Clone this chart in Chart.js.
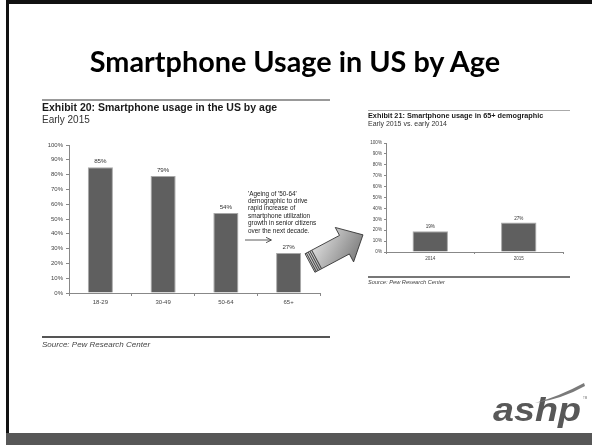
<!DOCTYPE html>
<html lang="en">
<head>
<meta charset="utf-8">
<title>Smartphone Usage in US by Age</title>
<script src="https://cdn.jsdelivr.net/npm/chart.js@4/dist/chart.umd.min.js"></script>
<style>
  html, body { margin: 0; padding: 0; background: #fff; }
  .slide { position: relative; width: 592px; height: 445px; overflow: hidden; background: #fff; }
  .frame { position: absolute; background: #111; }
  .band { position: absolute; left: 6px; top: 433px; width: 586px; height: 12px; background: #575757; }
  .rule { position: absolute; }
  canvas { position: absolute; }
  svg.overlay { position: absolute; left: 0; top: 0; }
</style>
</head>
<body>
<div class="slide">
  <div class="frame" style="left:6px;top:0;width:586px;height:4px"></div>
  <div class="frame" style="left:6px;top:0;width:3px;height:445px"></div>
  <div class="band"></div>

  <!-- 图表上下分隔线 -->
  <div class="rule" style="left:42px;top:99px;width:288px;height:1.5px;background:#999"></div>
  <div class="rule" style="left:42px;top:336px;width:288px;height:2px;background:#555"></div>
  <div class="rule" style="left:368px;top:110px;width:202px;height:1px;background:#aaa"></div>
  <div class="rule" style="left:368px;top:276px;width:202px;height:2px;background:#777"></div>

  <canvas id="ageChart" width="300" height="175" style="left:30px;top:135px"></canvas>
  <canvas id="seniorChart" width="210" height="125" style="left:360px;top:138px"></canvas>

  <svg class="overlay" width="592" height="445" xmlns="http://www.w3.org/2000/svg">
    <defs>
      <linearGradient id="arrowFill" x1="0" y1="0" x2="1" y2="1">
        <stop offset="0" stop-color="#f2f2f2"/>
        <stop offset="1" stop-color="#6a6a6a"/>
      </linearGradient>
    </defs>

    <text x="295" y="72" text-anchor="middle" font-family="Lato, 'Open Sans', sans-serif"
          font-weight="700" font-size="28.8" fill="#000">Smartphone Usage in US by Age</text>

    <g font-family="'Liberation Sans', Arial, sans-serif">
      <text x="42" y="111" font-weight="700" font-size="10.5" fill="#1a1a1a">Exhibit 20: Smartphone usage in the US by age</text>
      <text x="42" y="122.5" font-size="10" fill="#333">Early 2015</text>
      <text x="42" y="347" font-style="italic" font-size="8" fill="#444">Source: Pew Research Center</text>

      <text x="368" y="118.3" font-weight="700" font-size="7.3" fill="#1a1a1a">Exhibit 21: Smartphone usage in 65+ demographic</text>
      <text x="368" y="125.8" font-size="7" fill="#333">Early 2015 vs. early 2014</text>
      <text x="368" y="284.3" font-style="italic" font-size="5.7" fill="#444">Source: Pew Research Center</text>

      <g font-size="6.4" fill="#222">
        <text x="248" y="195.6">'Ageing of '50-64'</text>
        <text x="248" y="203">demographic to drive</text>
        <text x="248" y="210.4">rapid increase of</text>
        <text x="248" y="217.8">smartphone utilization</text>
        <text x="248" y="225.2">growth in senior citizens</text>
        <text x="248" y="232.6">over the next decade.</text>
      </g>
    </g>

    <!-- 注释小箭头 -->
    <g stroke="#333" stroke-width="0.8" fill="none">
      <line x1="245" y1="240" x2="271" y2="240"/>
      <polyline points="266,237.3 271.5,240 266,242.7"/>
    </g>

    <!-- 连接两图的大箭头 -->
    <g transform="translate(310,263) rotate(-28)">
      <path d="M0,-10.5 L39,-10.5 L39,-19.5 L60,0 L39,19.5 L39,10.5 L0,10.5 Z"
            fill="url(#arrowFill)" stroke="#333" stroke-width="0.8"/>
      <g fill="#444">
        <rect x="1" y="-10.5" width="1" height="21"/>
        <rect x="3" y="-10.5" width="1" height="21"/>
        <rect x="5" y="-10.5" width="1" height="21"/>
        <rect x="7" y="-10.5" width="1" height="21"/>
      </g>
    </g>

    <!-- ashp 标志 -->
    <text x="493" y="421" font-family="'Liberation Sans', Arial, sans-serif" font-weight="700"
          font-style="italic" font-size="34" textLength="88" lengthAdjust="spacingAndGlyphs"
          fill="#585858">ashp</text>
    <path d="M535,403 Q560,396 584,383 L585,386 Q562,399 535,403 Z" fill="#7a7a7a"/>
    <text x="583" y="399" font-family="'Liberation Sans', Arial, sans-serif" font-size="3" fill="#777">TM</text>
  </svg>
</div>

<script>
// ============================================================
// 数据
// ============================================================

const ageGroups = ['18-29', '30-49', '50-64', '65+'];
const usageByAge = [85, 79, 54, 27];

const seniorYears = ['2014', '2015'];
const seniorUsage = [19, 27];

const pctMin = 0;
const pctMax = 100;
const pctStep = 10;

const FONT = "'Liberation Sans', Arial, sans-serif";

// ============================================================
// 插件：柱顶数值
// ============================================================

const valueLabels = {
  id: 'valueLabels',
  afterDatasetsDraw(chart, args, opts) {
    const ctx = chart.ctx;
    const meta = chart.getDatasetMeta(0);
    const values = chart.data.datasets[0].data;
    ctx.save();
    ctx.font = `${opts.size}px ${FONT}`;
    ctx.fillStyle = opts.color;
    ctx.textAlign = 'center';
    ctx.textBaseline = 'alphabetic';
    meta.data.forEach((bar, i) => {
      ctx.fillText(values[i] + '%', bar.x, bar.y - opts.gap);
    });
    ctx.restore();
  }
};

// ============================================================
// 图表构建
// ============================================================

/**
 * 创建柱状图
 *
 * @param {string} id - canvas id
 * @param {string[]} labels - 分类
 * @param {number[]} values - 数值
 * @param {object} dims - 轴尺寸与字号
 */
function buildBarChart(id, labels, values, dims) {
  const ctx = document.getElementById(id).getContext('2d');
  return new Chart(ctx, {
    type: 'bar',
    data: {
      labels: labels,
      datasets: [{
        data: values,
        backgroundColor: '#5f5f5f',
        borderColor: '#a8a8a8',
        borderWidth: 1,
        barPercentage: 0.4,
        categoryPercentage: 1
      }]
    },
    options: {
      responsive: false,
      animation: false,
      devicePixelRatio: 1,
      layout: { padding: { top: dims.padTop, right: dims.padRight, left: 0, bottom: 0 } },
      plugins: {
        legend: { display: false },
        tooltip: { enabled: false },
        valueLabels: { size: dims.valueSize, color: '#333', gap: dims.valueGap }
      },
      scales: {
        x: {
          afterFit: (scale) => { scale.height = dims.xHeight; },
          grid: { offset: true, drawOnChartArea: false, tickLength: dims.tick, color: '#888' },
          border: { display: true, color: '#888', width: 1 },
          ticks: { font: { family: FONT, size: dims.tickSize }, color: '#444', padding: dims.pad, maxRotation: 0 }
        },
        y: {
          min: pctMin,
          max: pctMax,
          afterFit: (scale) => { scale.width = dims.yWidth; },
          grid: { drawOnChartArea: false, tickLength: dims.tick, color: '#888' },
          border: { display: true, color: '#888', width: 1 },
          ticks: {
            stepSize: pctStep,
            font: { family: FONT, size: dims.tickSize },
            color: '#444',
            padding: dims.pad,
            callback: (v) => v + '%'
          }
        }
      }
    },
    plugins: [valueLabels]
  });
}

// ============================================================
// 初始化
// ============================================================

buildBarChart('ageChart', ageGroups, usageByAge, {
  padTop: 10, padRight: 10, xHeight: 17, yWidth: 39,
  tick: 3, pad: 3, tickSize: 6, valueSize: 6.2, valueGap: 4
});

buildBarChart('seniorChart', seniorYears, seniorUsage, {
  padTop: 5, padRight: 7, xHeight: 11, yWidth: 26,
  tick: 2, pad: 2, tickSize: 4.6, valueSize: 4.6, valueGap: 3
});
</script>
</body>
</html>
